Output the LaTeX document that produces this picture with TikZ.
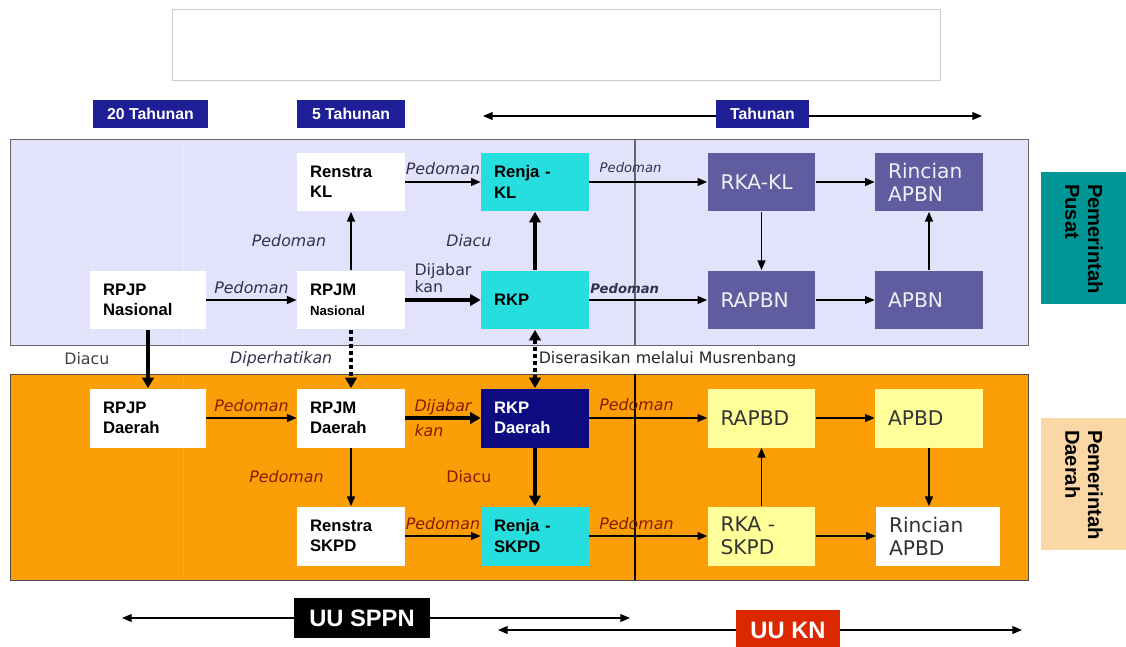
\documentclass[tikz,border=0pt]{standalone}
\usepackage{fontspec}
\setmainfont{Liberation Sans}
\newfontfamily\verdfont{DejaVu Sans}
\usetikzlibrary{positioning,arrows.meta}

\definecolor{panelblue}{RGB}{226,226,250}
\definecolor{panelorange}{RGB}{252,158,8}
\definecolor{boxcyan}{RGB}{38,222,222}
\definecolor{boxpurple}{RGB}{96,92,160}
\definecolor{boxnavy}{RGB}{12,12,128}
\definecolor{boxyellow}{RGB}{255,255,153}
\definecolor{tagblue}{RGB}{30,30,150}
\definecolor{pusatteal}{RGB}{0,150,150}
\definecolor{daerahpeach}{RGB}{250,215,165}
\definecolor{knred}{RGB}{220,40,0}
\definecolor{lblslate}{RGB}{50,50,80}
\definecolor{lblbrown}{RGB}{130,30,0}

\tikzset{
  kotak/.style={minimum height=1.18cm, text width=1.64cm, inner xsep=0.26cm, align=left,
    font=\bfseries\fontsize{9.5}{11.5}\selectfont},
  anggaran/.style={kotak, font=\verdfont\fontsize{11.5}{13}\selectfont},
  tag/.style={fill=tagblue, text=white, minimum height=0.56cm, inner sep=0pt,
    font=\bfseries\fontsize{9}{10}\selectfont},
  undang/.style={text=white, minimum height=0.8cm, inner sep=0pt,
    font=\bfseries\fontsize{13.5}{15}\selectfont},
  sisi/.style={rotate=-90, minimum width=2.66cm, minimum height=1.72cm, text width=2.16cm,
    inner xsep=0.25cm, align=left, font=\bfseries\fontsize{11.5}{13}\selectfont},
  panah/.style={-{Triangle[length=5.5pt,width=4.5pt]}, line width=0.8pt},
  panahtebal/.style={-{Triangle[length=6pt,width=6.5pt]}, line width=2.2pt},
  titik/.style={line width=2.3pt, dash pattern=on 2.2pt off 1.8pt},
  ket/.style={font=\verdfont\itshape\fontsize{9}{10}\selectfont, text=lblslate, inner sep=1pt},
  ketkecil/.style={ket, font=\verdfont\itshape\fontsize{7.5}{9}\selectfont},
  ketdaerah/.style={ket, text=lblbrown}
}

\begin{document}
\begin{tikzpicture}[x=0.02cm, y=-0.02cm]
% batas gambar
\useasboundingbox (0,0) rectangle (1126,646);
% kotak judul kosong
\draw[black!20, fill=white] (172,9) rectangle (940,80);

% panel pusat dan daerah
\draw[black!60, fill=panelblue] (10,139) rectangle (1028,345);
\draw[black!70, fill=panelorange] (10,374) rectangle (1028,580);
\draw[black!8] (183,140) -- (183,344);
\draw[black!25, opacity=0.4] (183,375) -- (183,579);
\draw[black!60, line width=0.6pt] (635,139) -- (635,345);
\draw[black, line width=1pt] (635,374) -- (635,580);

% periode
\node[tag, minimum width=2.3cm] (tahun20) at (150.5,114) {20 Tahunan};
\node[tag, minimum width=2.16cm] (tahun5) at (351,114) {5 Tahunan};
\node[tag, minimum width=1.86cm] (tahunan) at (762.5,114) {Tahunan};
\coordinate (tahunkiri) at (483,116);
\coordinate (tahunkanan) at (982,116);
\draw[panah, line width=0.6pt] (tahunan.west |- tahunkiri) -- (tahunkiri);
\draw[panah, line width=0.6pt] (tahunan.east |- tahunkanan) -- (tahunkanan);

% pemerintah pusat
\node[kotak, fill=white] (renstrakl) at (351,182) {Renstra\\KL};
\node[kotak, fill=boxcyan] (renjakl) at (535,182) {Renja -\\KL};
\node[anggaran, fill=boxpurple, text=white!90!boxpurple] (rkakl) at (761.5,182) {RKA-KL};
\node[anggaran, fill=boxpurple, text=white!90!boxpurple] (rincianapbn) at (929,182) {Rincian\\APBN};
\node[kotak, fill=white, text width=1.8cm] (rpjpnas) at (148,300) {RPJP\\Nasional};
\node[kotak, fill=white] (rpjmnas) at (351,300) {RPJM\\{\fontsize{7.5}{9}\selectfont Nasional}};
\node[kotak, fill=boxcyan] (rkp) at (535,300) {RKP};
\node[anggaran, fill=boxpurple, text=white!90!boxpurple] (rapbn) at (761.5,300) {RAPBN};
\node[anggaran, fill=boxpurple, text=white!90!boxpurple] (apbn) at (929,300) {APBN};

% pemerintah daerah
\node[kotak, fill=white, text width=1.8cm] (rpjpda) at (148,418) {RPJP\\Daerah};
\node[kotak, fill=white] (rpjmda) at (351,418) {RPJM\\Daerah};
\node[kotak, fill=boxnavy, text=white] (rkpda) at (535,418) {RKP\\Daerah};
\node[anggaran, fill=boxyellow, text=black!80] (rapbd) at (761.5,418) {RAPBD};
\node[anggaran, fill=boxyellow, text=black!80] (apbd) at (929,418) {APBD};
\node[kotak, fill=white] (renstraskpd) at (351,536) {Renstra\\SKPD};
\node[kotak, fill=boxcyan] (renjaskpd) at (535,536) {Renja -\\SKPD};
\node[anggaran, fill=boxyellow, text=black!80] (rkaskpd) at (761.5,536) {RKA -\\SKPD};
\node[anggaran, fill=white, text=black!80, text width=1.96cm] (rincianapbd) at (938,536) {Rincian\\APBD};

% label samping
\node[sisi, fill=pusatteal] (pusat) at (1084,238) {Pemerintah\\Pusat};
\node[sisi, fill=daerahpeach] (daerah) at (1084,484) {Pemerintah\\Daerah};

% hubungan pusat
\draw[panah] (renstrakl) -- node[ket, above=3pt] {Pedoman} (renjakl);
\draw[panah] (renjakl) -- node[ketkecil, above=4pt, pos=0.35] {Pedoman} (rkakl);
\draw[panah] (rkakl) -- (rincianapbn);
\draw[panah] (rkakl) -- (rapbn);
\draw[panah] (rapbn) -- (apbn);
\draw[panah] (apbn) -- (rincianapbn);
\draw[panah] (rpjpnas) -- node[ket, above=2pt] {Pedoman} (rpjmnas);
\draw[panah] (rpjmnas) -- node[ket, left=0.45cm] {Pedoman} (renstrakl);
\draw[panahtebal] (rpjmnas) -- node[ket, above=2pt, align=left, font=\verdfont\fontsize{9}{9.5}\selectfont] {Dijabar\\kan} (rkp);
\draw[panahtebal] (rkp) -- node[ket, left=0.8cm] {Diacu} (renjakl);
\draw[panah] (rkp) -- node[ketkecil, above=2pt, pos=0.3, font=\verdfont\bfseries\itshape\fontsize{7.5}{9}\selectfont] {Pedoman} (rapbn);

% hubungan pusat - daerah
\draw[panahtebal] (rpjpnas) -- node[ket, left=0.7cm, font=\verdfont\fontsize{9}{10}\selectfont, text=black!75] {Diacu} (rpjpda);
\draw[titik, -{Triangle[length=6pt,width=6.5pt]}] (rpjmnas) -- node[ket, left=0.3cm] {Diperhatikan} (rpjmda);
\draw[titik, {Triangle[length=6pt,width=6.5pt]}-{Triangle[length=6pt,width=6.5pt]}] (rkp) -- node[ket, right=0pt, font=\verdfont\fontsize{9}{10}\selectfont, text=black!85] {Diserasikan melalui Musrenbang} (rkpda);

% hubungan daerah
\draw[panah] (rpjpda) -- node[ketdaerah, above=2pt] {Pedoman} (rpjmda);
\draw[panahtebal] (rpjmda) -- node[ketdaerah, align=left, font=\verdfont\itshape\fontsize{9}{14}\selectfont] {Dijabar\\kan} (rkpda);
\draw[panah] (rpjmda) -- node[ketdaerah, left=0.5cm] {Pedoman} (renstraskpd);
\draw[panah] (renstraskpd) -- node[ketdaerah, above=2pt] {Pedoman} (renjaskpd);
\draw[panahtebal] (rkpda) -- node[ketdaerah, left=0.8cm, font=\verdfont\fontsize{9}{10}\selectfont] {Diacu} (renjaskpd);
\draw[panah] (rkpda) -- node[ketdaerah, above=3pt, pos=0.4] {Pedoman} (rapbd);
\draw[panah] (renjaskpd) -- node[ketdaerah, above=2pt, pos=0.4] {Pedoman} (rkaskpd);
\draw[panah] (rkaskpd) -- (rapbd);
\draw[panah] (rapbd) -- (apbd);
\draw[panah] (apbd) -- (apbd |- rincianapbd.north);
\draw[panah] (rkaskpd) -- (rincianapbd);

% undang-undang
\node[undang, fill=black, minimum width=2.72cm] (uusppn) at (362,618) {UU SPPN};
\node[undang, fill=knred, minimum width=2.08cm] (uukn) at (788,630) {UU KN};
\coordinate (sppnkiri) at (122,618);
\coordinate (sppnkanan) at (630,618);
\coordinate (knkiri) at (498,630);
\coordinate (knkanan) at (1022,630);
\draw[panah, line width=0.6pt] (uusppn) -- (sppnkiri);
\draw[panah, line width=0.6pt] (uusppn) -- (sppnkanan);
\draw[panah, line width=0.6pt] (uukn) -- (knkiri);
\draw[panah, line width=0.6pt] (uukn) -- (knkanan);
\end{tikzpicture}
\end{document}
